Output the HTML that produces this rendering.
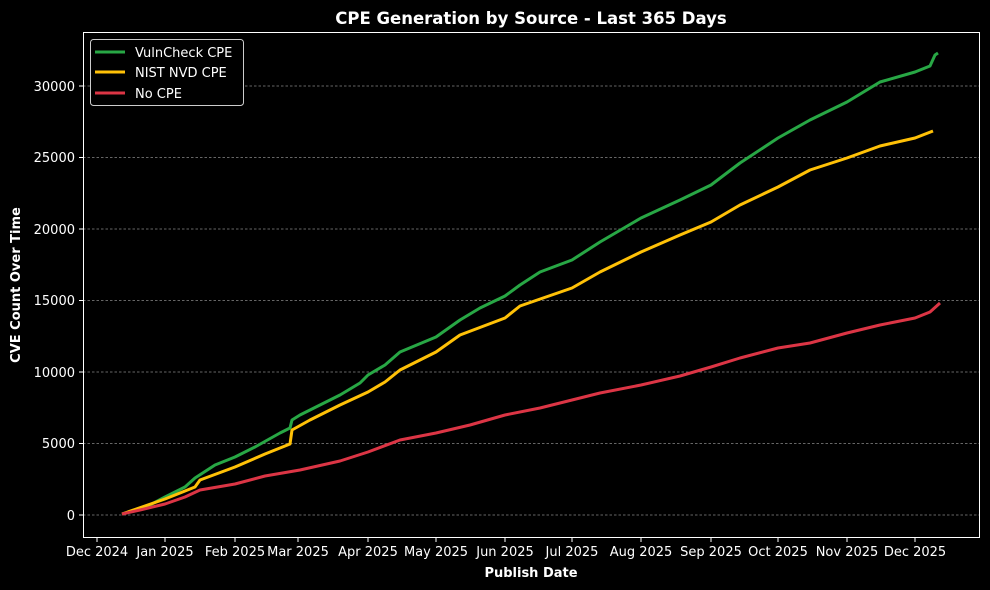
<!DOCTYPE html>
<html><head><meta charset="utf-8"><style>
body{margin:0;background:#000;}
svg{display:block;font-family:"DejaVu Sans","Liberation Sans",sans-serif;}
</style></head><body>
<svg width="990" height="590" viewBox="0 0 990 590">
<rect width="990" height="590" fill="#000"/>
<text x="531" y="24" fill="#fff" font-size="16.5" font-weight="bold" text-anchor="middle">CPE Generation by Source - Last 365 Days</text>
<g stroke="#888" stroke-width="0.7" stroke-dasharray="2.5,2">
<line x1="83" x2="980" y1="515" y2="515"/><line x1="83" x2="980" y1="443.5" y2="443.5"/>
<line x1="83" x2="980" y1="372" y2="372"/><line x1="83" x2="980" y1="300.5" y2="300.5"/>
<line x1="83" x2="980" y1="229" y2="229"/><line x1="83" x2="980" y1="157.5" y2="157.5"/>
<line x1="83" x2="980" y1="86" y2="86"/>
</g>
<g fill="none" stroke-width="3" stroke-linejoin="round">
<polyline stroke="#28a745" points="122,514 150,505 165,497 185,487 195,478 215,465 235,457 255,447 280,433 290,428 292,420 300,415 320,405 340,395 360,383 368,375 385,365 400,352 436,337 460,320 480,308 505,296 520,285 540,272 572,260 600,242 641,218 680,200 711,185 740,163 778,138 810,120 847,102 880,82 915,72 930,66 935,55 938,53"/>
<polyline stroke="#ffc107" points="122,514 165,499 195,487 200,480 235,467 265,454 290,444 292,430 310,420 340,405 368,392 385,382 400,370 436,352 460,335 505,318 520,306 572,288 600,272 641,252 680,235 711,222 740,205 778,187 810,170 847,158 880,146 915,138 933,131"/>
<polyline stroke="#dc3545" points="122,514 140,510 165,504 185,497 200,490 235,484 265,476 300,470 340,461 368,452 400,440 436,433 470,425 505,415 540,408 572,400 600,393 641,385 680,376 711,367 740,358 778,348 810,343 847,333 880,325 915,318 930,312 940,303"/>
</g>
<rect x="83.5" y="32.5" width="896" height="505" fill="none" stroke="#fff" stroke-width="1"/>
<g stroke="#fff" stroke-width="1">
<line x1="79" x2="83" y1="515" y2="515"/><line x1="79" x2="83" y1="443.5" y2="443.5"/><line x1="79" x2="83" y1="372" y2="372"/><line x1="79" x2="83" y1="300.5" y2="300.5"/><line x1="79" x2="83" y1="229" y2="229"/><line x1="79" x2="83" y1="157.5" y2="157.5"/><line x1="79" x2="83" y1="86" y2="86"/>
<line x1="97" x2="97" y1="538" y2="542"/><line x1="165" x2="165" y1="538" y2="542"/><line x1="235" x2="235" y1="538" y2="542"/><line x1="298" x2="298" y1="538" y2="542"/><line x1="368" x2="368" y1="538" y2="542"/><line x1="436" x2="436" y1="538" y2="542"/><line x1="505" x2="505" y1="538" y2="542"/><line x1="572" x2="572" y1="538" y2="542"/><line x1="641" x2="641" y1="538" y2="542"/><line x1="711" x2="711" y1="538" y2="542"/><line x1="778" x2="778" y1="538" y2="542"/><line x1="847" x2="847" y1="538" y2="542"/><line x1="915" x2="915" y1="538" y2="542"/>
</g>
<g fill="#fff" font-size="13" text-anchor="end">
<text x="75" y="520">0</text><text x="75" y="448">5000</text><text x="75" y="377">10000</text><text x="75" y="305">15000</text><text x="75" y="234">20000</text><text x="75" y="162">25000</text><text x="75" y="91">30000</text>
</g>
<g fill="#fff" font-size="13" text-anchor="middle">
<text x="97" y="556">Dec 2024</text><text x="165" y="556">Jan 2025</text><text x="235" y="556">Feb 2025</text><text x="298" y="556">Mar 2025</text><text x="368" y="556">Apr 2025</text><text x="436" y="556">May 2025</text><text x="505" y="556">Jun 2025</text><text x="572" y="556">Jul 2025</text><text x="641" y="556">Aug 2025</text><text x="711" y="556">Sep 2025</text><text x="778" y="556">Oct 2025</text><text x="847" y="556">Nov 2025</text><text x="915" y="556">Dec 2025</text>
</g>
<text x="531" y="577" fill="#fff" font-size="13" font-weight="bold" text-anchor="middle">Publish Date</text>
<text transform="translate(20,285) rotate(-90)" fill="#fff" font-size="13" font-weight="bold" text-anchor="middle">CVE Count Over Time</text>
<rect x="90.5" y="39.5" width="153" height="66" rx="3" fill="#000" stroke="#ccc" stroke-width="1"/>
<g stroke-width="3">
<line x1="95" x2="125" y1="52" y2="52" stroke="#28a745"/>
<line x1="95" x2="125" y1="72" y2="72" stroke="#ffc107"/>
<line x1="95" x2="125" y1="93" y2="93" stroke="#dc3545"/>
</g>
<g fill="#fff" font-size="13">
<text x="135" y="57">VulnCheck CPE</text><text x="135" y="77">NIST NVD CPE</text><text x="135" y="98">No CPE</text>
</g>
</svg>
</body></html>
